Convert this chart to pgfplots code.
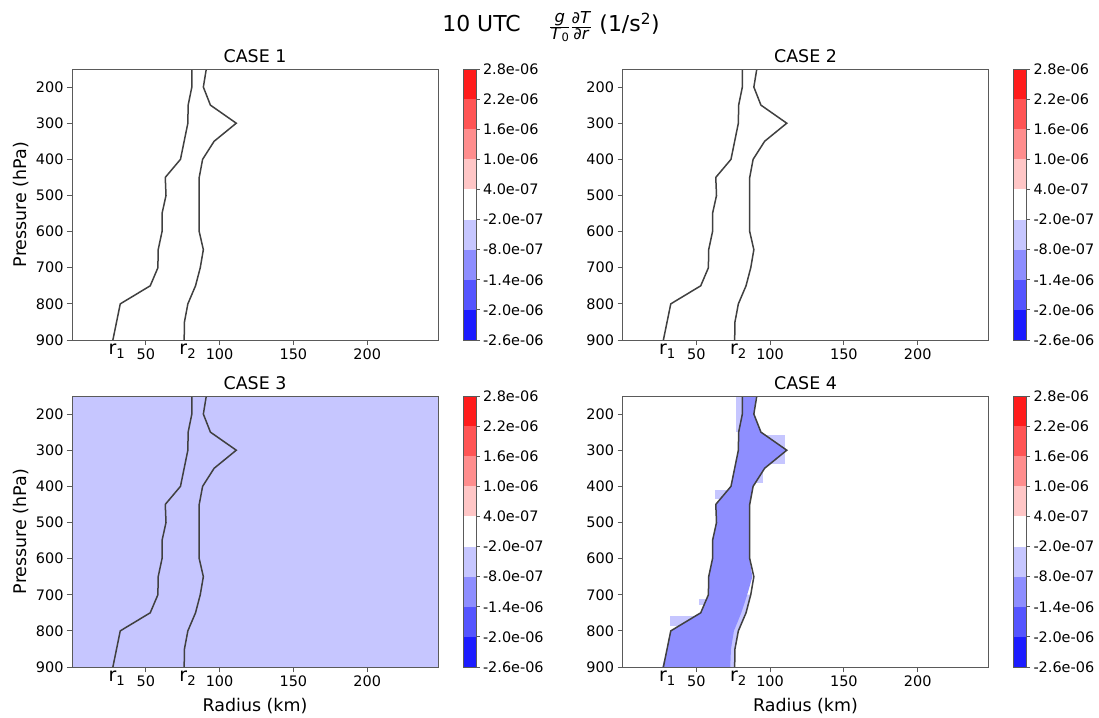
\documentclass[border=0pt]{standalone}
\usepackage{fontspec}
\setmainfont{DejaVu Sans}
\usepackage{pgfplots}
\usepackage{pgfplotstable}
\pgfplotsset{compat=1.18}

% bwr levels, blue to red
\definecolor{cB4}{RGB}{28,28,255}
\definecolor{cB3}{RGB}{85,85,255}
\definecolor{cB2}{RGB}{142,142,255}
\definecolor{cB1}{RGB}{198,198,255}
\definecolor{cR1}{RGB}{255,198,198}
\definecolor{cR2}{RGB}{255,142,142}
\definecolor{cR3}{RGB}{255,85,85}
\definecolor{cR4}{RGB}{255,28,28}
\definecolor{prof}{RGB}{64,64,64}
\definecolor{frame}{RGB}{90,90,90}

\newcommand\tickfont{\fontsize{14.5}{17}\selectfont}
\newcommand\labfont{\fontsize{17.5}{20}\selectfont}
\newcommand\fracfont{\fontsize{16.5}{18}\selectfont}
\newcommand\rfont{\fontsize{19}{20}\selectfont}

% r1 / r2 profiles (km) against pressure (hPa)
\pgfplotstableread{
p   r1    r2
150 81.2  91.0
200 81.2  89.0
250 78.7  93.8
300 78.5  111.3
350 76.0  96.3
400 73.5  88.5
450 63.2  86.2
500 63.7  86.2
550 61.0  86.2
600 61.0  86.2
650 58.4  89.0
700 58.2  86.9
750 53.0  83.7
800 32.7  78.5
850 30.2  76.2
900 27.7  76.0
}\prof

% case 4: outline of the -1.4e-06..-8e-07 region
\pgfplotstableread{
r     p
81.2  150
81.2  200
78.7  250
78.5  300
76.0  350
73.5  400
63.2  450
63.7  500
61.0  550
61.0  600
58.4  650
58.2  700
53.0  750
32.7  800
30.2  850
27.0  900
73.0  900
73.5  850
75.5  800
80.5  750
84.5  700
88.0  650
86.0  600
86.0  450
88.5  400
96.0  350
111.0 300
94.0  250
89.0  200
90.5  150
}\core

\pgfplotsset{
  panel/.style={
    scale only axis, width=366bp, height=271bp,
    xmin=0, xmax=248, ymin=150, ymax=900, y dir=reverse,
    xtick={50,100,150,200}, ytick={200,300,...,900},
    xtick pos=left, ytick pos=left, tick align=outside,
    major tick length=5bp,
    tick style={frame, line width=0.8bp},
    axis line style={frame, line width=0.8bp},
    tick label style={font=\tickfont},
    /pgf/number format/assume math mode=true,
    extra x ticks={30.5,78.5},
    extra x tick labels={r\textsubscript{1},r\textsubscript{2}},
    extra x tick style={major tick length=0pt,
      tick label style={font=\rfont, inner sep=4bp}},
    title style={font=\labfont, yshift=-3bp},
    label style={font=\labfont},
    axis on top, clip=true,
  },
  cbar/.style={
    scale only axis, width=13bp, height=271bp,
    xmin=0, xmax=1, ymin=-2.6, ymax=2.8,
    xtick=\empty,
    ytick={-2.6,-2.0,-1.4,-0.8,-0.2,0.4,1.0,1.6,2.2,2.8},
    yticklabels={-2.6e-06,-2.0e-06,-1.4e-06,-8.0e-07,-2.0e-07,
                 4.0e-07,1.0e-06,1.6e-06,2.2e-06,2.8e-06},
    ytick pos=right, yticklabel pos=right, tick align=outside,
    major tick length=3.5bp,
    tick style={frame, line width=0.8bp},
    axis line style={frame, line width=0.8bp},
    tick label style={font=\tickfont},
    axis on top,
  },
}

\newcommand\levels{%
  \addplot[fill=cB4, draw=none] coordinates {(0,-2.6)(1,-2.6)(1,-2.0)(0,-2.0)};
  \addplot[fill=cB3, draw=none] coordinates {(0,-2.0)(1,-2.0)(1,-1.4)(0,-1.4)};
  \addplot[fill=cB2, draw=none] coordinates {(0,-1.4)(1,-1.4)(1,-0.8)(0,-0.8)};
  \addplot[fill=cB1, draw=none] coordinates {(0,-0.8)(1,-0.8)(1,-0.2)(0,-0.2)};
  \addplot[fill=white, draw=none] coordinates {(0,-0.2)(1,-0.2)(1,0.4)(0,0.4)};
  \addplot[fill=cR1, draw=none] coordinates {(0,0.4)(1,0.4)(1,1.0)(0,1.0)};
  \addplot[fill=cR2, draw=none] coordinates {(0,1.0)(1,1.0)(1,1.6)(0,1.6)};
  \addplot[fill=cR3, draw=none] coordinates {(0,1.6)(1,1.6)(1,2.2)(0,2.2)};
  \addplot[fill=cR4, draw=none] coordinates {(0,2.2)(1,2.2)(1,2.8)(0,2.8)};
}
\newcommand\profiles{%
  \addplot[prof, line width=1.5bp] table[x=r1, y=p] {\prof};
  \addplot[prof, line width=1.5bp] table[x=r2, y=p] {\prof};
}

\begin{document}
\begin{tikzpicture}
\useasboundingbox (0,0) rectangle (1099bp,-718bp);

\node[font=\fontsize{22}{24}\selectfont] at (551bp,-27bp)
  {10 UTC\hspace{1.3em}$\frac{\mbox{\fracfont\textit{g}}}{\mbox{\fracfont\textit{T}\textsubscript{0}}}\frac{\mbox{\fracfont\textit{∂T}}}{\mbox{\fracfont\textit{∂r}}}$ (1/s\textsuperscript{2})};

% CASE 1
\begin{axis}[panel, at={(72bp,-340bp)}, anchor=south west,
  title={CASE 1}, ylabel={Pressure (hPa)}]
\profiles
\end{axis}
\begin{axis}[cbar, at={(463bp,-340bp)}, anchor=south west]
\levels
\end{axis}

% CASE 2
\begin{axis}[panel, at={(622.5bp,-340bp)}, anchor=south west,
  title={CASE 2}]
\profiles
\end{axis}
\begin{axis}[cbar, at={(1013.5bp,-340bp)}, anchor=south west]
\levels
\end{axis}

% CASE 3
\begin{axis}[panel, at={(72bp,-667bp)}, anchor=south west,
  title={CASE 3}, ylabel={Pressure (hPa)}, xlabel={Radius (km)}]
\addplot[fill=cB1, draw=none] coordinates {(0,150)(248,150)(248,900)(0,900)};
\profiles
\end{axis}
\begin{axis}[cbar, at={(463bp,-667bp)}, anchor=south west]
\levels
\end{axis}

% CASE 4
\begin{axis}[panel, at={(622.5bp,-667bp)}, anchor=south west,
  title={CASE 4}, xlabel={Radius (km)}]
\addplot[fill=cB1, draw=none] coordinates {(77,150)(90,150)(90,250)(77,250)};
\addplot[fill=cB1, draw=none] coordinates {(93,258)(110,258)(110,338)(93,338)};
\addplot[fill=cB1, draw=none] coordinates {(88,362)(95,362)(95,391)(88,391)};
\addplot[fill=cB1, draw=none] coordinates {(63,409)(72,409)(72,435)(63,435)};
\addplot[fill=cB1, draw=none] coordinates {(52,712)(57,712)(57,727)(52,727)};
\addplot[fill=cB1, draw=none] coordinates {(32,760)(52,760)(52,786)(32,786)};
\addplot[fill=cB1, draw=none] coordinates {(86.9,700)(83.7,750)(78.5,800)(76.2,850)(76,900)(70,900)(70,700)};
\addplot[fill=cB2, draw=none] table[x=r, y=p] {\core};
\profiles
\end{axis}
\begin{axis}[cbar, at={(1013.5bp,-667bp)}, anchor=south west]
\levels
\end{axis}
\end{tikzpicture}
\end{document}
